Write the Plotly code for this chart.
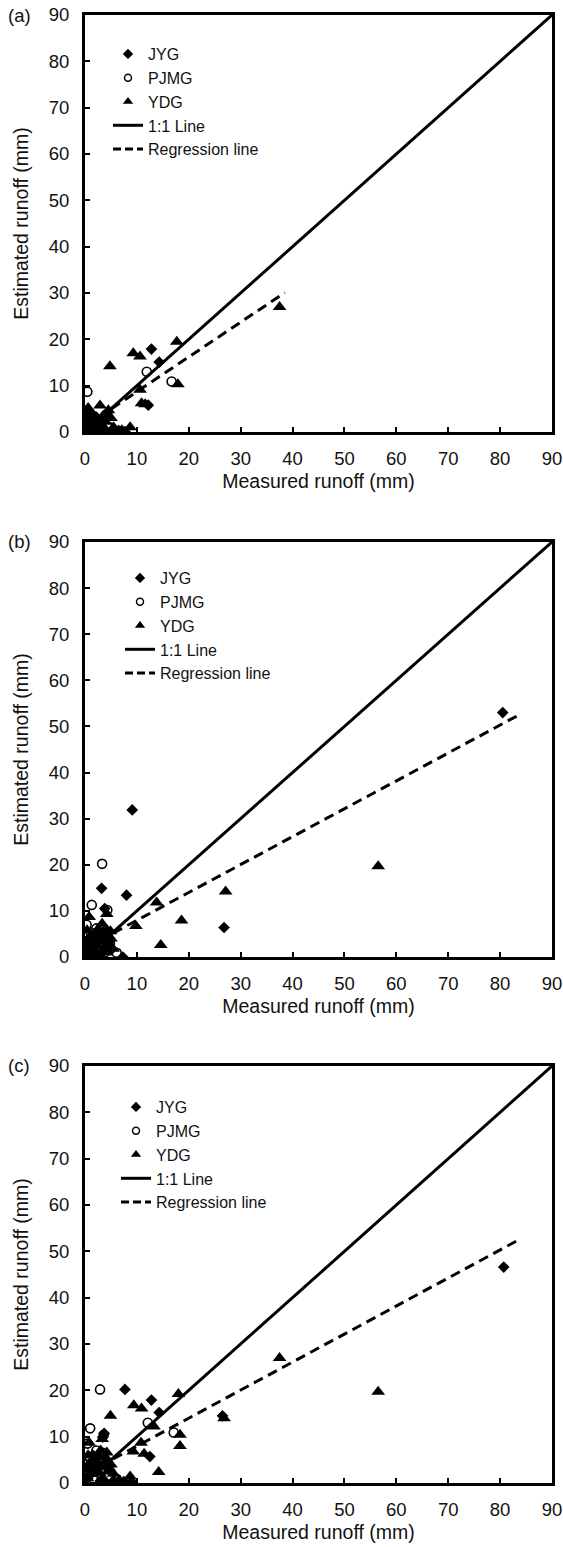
import plotly.graph_objects as go

# ---------------- data ----------------
# Panel (a)
JYG_A_X = [12.8, 14.3, 12.2, 7.7, 5.5, 3.0, 1.0, 0.3, 4.2, 2.2, 6.5, 0.6, 1.8, 3.6, 2.6, 0.9]
JYG_A_Y = [17.9, 15.1, 5.8, 0.1, 0.5, 1.5, 0.5, 2.0, 4.0, 3.2, 0.3, 0.2, 0.8, 2.4, 0.2, 3.8]
PJMG_A_X = [11.9, 16.7, 0.45, 3.5, 0.8, 2.5, 0.2, 4.5, 1.5, 3.0, 0.5]
PJMG_A_Y = [13.0, 10.9, 8.7, 2.8, 1.5, 0.8, 0.5, 1.2, 3.5, 0.3, 4.5]
YDG_A_X = [37.5, 4.8, 9.3, 10.6, 17.7, 17.9, 10.6, 10.9, 11.6, 8.7, 0.6, 2.9, 4.5, 1.3, 3.5, 0.3,
           2.0, 5.5, 4.0, 1.0, 0.5, 7.1, 1.8, 0.4, 2.4, 3.9, 1.1, 0.2, 5.0, 6.0]
YDG_A_Y = [27.0, 14.2, 17.0, 16.3, 19.5, 10.3, 9.1, 6.2, 6.0, 1.0, 5.2, 5.7, 4.7, 4.0, 3.5, 3.0,
           2.0, 1.0, 0.5, 1.0, 0.2, 0.4, 3.0, 1.6, 0.6, 2.2, 2.6, 4.0, 3.0, 0.2]
REG_A = (0.75, 1.2, 38.5)  # slope, intercept, max measured

# Panel (b)
JYG_B_X = [80.5, 9.1, 3.2, 8.0, 26.8, 7.3, 3.5, 2.0, 0.5, 4.0, 1.2, 5.0, 0.2, 2.8, 3.8, 2.4, 4.5, 1.6, 0.8]
JYG_B_Y = [53.0, 31.9, 14.9, 13.4, 6.4, 0.0, 4.5, 2.5, 1.0, 6.0, 3.5, 1.5, 0.3, 0.5, 10.5, 5.0, 3.2, 0.8, 2.2]
PJMG_B_X = [23.1, 3.3, 1.3, 4.3, 6.1, 0.3, 1.1, 2.9, 0.6, 2.9, 0.5, 4.8, 1.5, 2.2, 0.9, 3.8]
PJMG_B_Y = [59.5, 20.2, 11.3, 10.2, 0.9, 7.0, 5.3, 4.4, 2.6, 0.1, 0.5, 3.0, 1.5, 6.2, 3.8, 1.0]
YDG_B_X = [56.5, 27.1, 13.8, 4.2, 18.6, 9.8, 14.6, 0.8, 4.0, 3.0, 1.5, 0.5, 2.5, 5.0, 3.5, 1.0,
           0.2, 4.5, 3.3, 2.0, 4.9, 1.8, 0.4, 3.7, 2.7, 5.4]
YDG_B_Y = [19.7, 14.2, 11.8, 9.3, 7.9, 6.7, 2.6, 8.7, 5.5, 3.5, 2.0, 1.0, 6.0, 4.0, 1.0, 4.5,
           3.0, 2.5, 7.2, 0.4, 5.6, 3.9, 5.8, 2.2, 4.8, 1.8]
REG_B = (0.605, 1.9, 83.4)

# Panel (c)
JYG_C_X = [80.7, 7.7, 12.8, 14.3, 26.5, 3.7, 3.4, 12.5, 7.5, 5.5, 9.0, 2.0, 4.0, 0.5, 1.5, 3.0,
           2.5, 4.8, 1.0, 6.5]
JYG_C_Y = [46.6, 20.2, 17.9, 15.2, 14.5, 10.7, 9.9, 5.7, 0.3, 0.5, 0.2, 2.5, 4.5, 1.0, 6.0, 0.5,
           4.0, 2.8, 3.2, 0.4]
PJMG_C_X = [23.1, 2.9, 12.1, 1.0, 17.1, 3.6, 0.5, 1.0, 2.9, 3.5, 0.6, 3.2, 6.1, 1.5, 4.5, 2.2, 0.3]
PJMG_C_Y = [59.7, 20.2, 13.0, 11.8, 10.9, 10.4, 8.5, 5.3, 4.4, 6.5, 2.6, 0.1, 0.9, 1.0, 3.0, 7.0, 4.0]
YDG_C_X = [37.5, 56.5, 18.0, 9.4, 10.9, 4.9, 26.8, 13.3, 18.3, 18.3, 10.8, 9.3, 11.4, 14.2, 8.7,
           3.3, 0.8, 4.0, 3.0, 1.5, 0.5, 2.5, 5.0, 3.5, 1.0, 0.2, 4.5, 3.0, 1.9, 4.2, 2.8, 0.6,
           5.5, 3.8]
YDG_C_Y = [27.0, 19.7, 19.2, 16.8, 16.1, 14.5, 14.0, 12.2, 10.4, 8.0, 8.7, 6.8, 6.3, 2.4, 1.4,
           9.5, 8.7, 5.5, 3.5, 2.0, 1.0, 6.0, 4.0, 1.0, 4.5, 3.0, 2.5, 7.0, 5.2, 6.6, 2.2, 6.0,
           2.0, 0.4]
REG_C = (0.605, 1.9, 83.4)

ONE_TO_ONE = [0, 90]
TICKS = [0, 10, 20, 30, 40, 50, 60, 70, 80, 90]
PANEL_LABELS = ["(a)", "(b)", "(c)"]
SERIES_NAMES = ["JYG", "PJMG", "YDG", "1:1 Line", "Regression line"]

panels = [
    (JYG_A_X, JYG_A_Y, PJMG_A_X, PJMG_A_Y, YDG_A_X, YDG_A_Y, REG_A),
    (JYG_B_X, JYG_B_Y, PJMG_B_X, PJMG_B_Y, YDG_B_X, YDG_B_Y, REG_B),
    (JYG_C_X, JYG_C_Y, PJMG_C_X, PJMG_C_Y, YDG_C_X, YDG_C_Y, REG_C),
]

# ---------------- layout geometry (pixels) ----------------
W, H = 563, 1547
X_LEFT, X_RIGHT = 85, 552
PANEL_TB = [(15, 432), (542, 957), (1066, 1483)]
LEGEND_POS = [(108, 37), (120, 561), (116, 1090)]
LABEL_Y = [16, 541, 1065]

FONT = "Liberation Sans, Arial, sans-serif"
BLACK = "#111111"

fig = go.Figure()

for i, (jx, jy, px, py, yx, yy, reg) in enumerate(panels):
    n = "" if i == 0 else str(i + 1)
    xa, ya = "x" + n, "y" + n
    lg = "legend" + n
    mk = dict(xaxis=xa, yaxis=ya, mode="markers", showlegend=False, cliponaxis=True)
    fig.add_trace(go.Scatter(x=jx, y=jy, marker=dict(symbol="diamond", size=9, color="black",
                                                       line=dict(width=0)), **mk))
    fig.add_trace(go.Scatter(x=px, y=py, marker=dict(symbol="circle-open", size=9, color="black",
                                                       line=dict(width=1.6)), **mk))
    fig.add_trace(go.Scatter(x=yx, y=yy, marker=dict(symbol="triangle-up", size=12, color="black",
                                                       line=dict(width=0)), **mk))
    # 1:1 line
    fig.add_trace(go.Scatter(x=ONE_TO_ONE, y=ONE_TO_ONE, xaxis=xa, yaxis=ya, mode="lines",
                             line=dict(color="black", width=3), showlegend=False))
    # regression line
    s, b, xm = reg
    rx = [0, xm]
    ry = [s * v + b for v in rx]
    fig.add_trace(go.Scatter(x=rx, y=ry, xaxis=xa, yaxis=ya, mode="lines",
                             line=dict(color="black", width=3, dash="10px,6px"), showlegend=False))
    # legend entries
    leg_kw = dict(x=[None], y=[None], xaxis=xa, yaxis=ya, legend=lg, showlegend=True)
    fig.add_trace(go.Scatter(name=SERIES_NAMES[0], mode="markers",
                             marker=dict(symbol="diamond", size=8, color="black"), **leg_kw))
    fig.add_trace(go.Scatter(name=SERIES_NAMES[1], mode="markers",
                             marker=dict(symbol="circle-open", size=7, color="black",
                                         line=dict(width=1.5)), **leg_kw))
    fig.add_trace(go.Scatter(name=SERIES_NAMES[2], mode="markers",
                             marker=dict(symbol="triangle-up", size=9, color="black"), **leg_kw))
    fig.add_trace(go.Scatter(name=SERIES_NAMES[3], mode="lines",
                             line=dict(color="black", width=3), **leg_kw))
    fig.add_trace(go.Scatter(name=SERIES_NAMES[4], mode="lines",
                             line=dict(color="black", width=3, dash="8px,4px"), **leg_kw))

    top, bot = PANEL_TB[i]
    axis_common = dict(range=[0, 90], tickvals=TICKS, ticks="inside", ticklen=5, tickwidth=1.5,
                       tickcolor="black", showline=True, linewidth=3, linecolor="black",
                       mirror=True, showgrid=False, zeroline=False, automargin=False,
                       tickfont=dict(family=FONT, size=18.5, color=BLACK))
    fig.layout["xaxis" + n] = dict(domain=[X_LEFT / W, X_RIGHT / W], anchor=ya,
                                   title=dict(text="Measured runoff (mm)",
                                              font=dict(family=FONT, size=19.5, color=BLACK),
                                              standoff=7),
                                   ticklabelstandoff=8, **axis_common)
    fig.layout["yaxis" + n] = dict(domain=[1 - bot / H, 1 - top / H], anchor=xa,
                                   title=dict(text="Estimated runoff (mm)",
                                              font=dict(family=FONT, size=19.5, color=BLACK),
                                              standoff=15),
                                   ticklabelstandoff=9, **axis_common)
    lx, ly = LEGEND_POS[i]
    fig.layout[lg] = dict(x=lx / W, y=1 - ly / H, xanchor="left", yanchor="top",
                          bgcolor="rgba(255,255,255,1)", borderwidth=0,
                          font=dict(family=FONT, size=16, color=BLACK),
                          itemsizing="trace", tracegroupgap=0)
    fig.add_annotation(text=PANEL_LABELS[i], xref="paper", yref="paper", x=6 / W,
                       y=1 - LABEL_Y[i] / H, xanchor="left", yanchor="middle", showarrow=False,
                       font=dict(family=FONT, size=18.5, color=BLACK))

fig.update_layout(width=W, height=H,
                  margin=dict(l=0, r=0, t=0, b=0, autoexpand=False),
                  paper_bgcolor="white", plot_bgcolor="white")

fig.write_html("out.html", config={"displayModeBar": False},
               post_script="document.body.style.margin='0px';document.body.style.overflow='hidden';")
